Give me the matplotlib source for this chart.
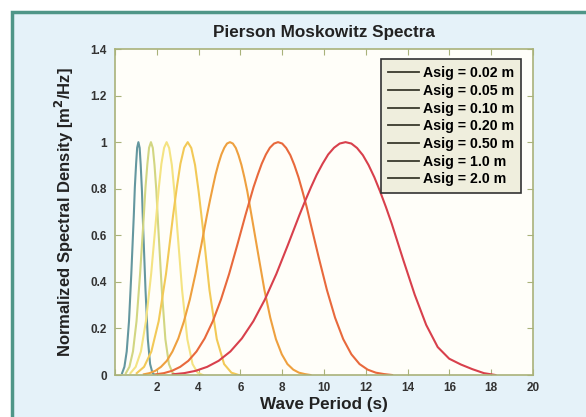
import matplotlib
matplotlib.use("Agg")
import matplotlib.pyplot as plt
from matplotlib.patches import Rectangle

plt.rcParams["font.family"] = ["Liberation Sans", "DejaVu Sans"]
plt.rcParams["font.weight"] = "bold"

# legend labels (significant wave height)
labels = ["Asig = 0.02 m", "Asig = 0.05 m", "Asig = 0.10 m", "Asig = 0.20 m",
          "Asig = 0.50 m", "Asig = 1.0 m", "Asig = 2.0 m"]
colors = ["#64979f", "#d2d682", "#f4e382", "#f2c957", "#eea03f", "#e8693c", "#d8404c"]

# narrow spectra (normalized densities, same read-off for the four small sea states)
narrow_vals = [0.008, 0.035, 0.101, 0.231, 0.434, 0.686, 0.807, 0.907, 0.976, 1.0,
               0.975, 0.902, 0.789, 0.650, 0.365, 0.154, 0.047, 0.010, 0.0]
t1 = [0.34, 0.45, 0.56, 0.67, 0.78, 0.90, 0.95, 1.01, 1.06, 1.12,
      1.18, 1.23, 1.29, 1.34, 1.46, 1.57, 1.68, 1.79, 1.90]
t2 = [0.52, 0.69, 0.86, 1.03, 1.20, 1.38, 1.46, 1.55, 1.63, 1.72,
      1.81, 1.89, 1.98, 2.06, 2.24, 2.41, 2.58, 2.75, 2.92]
t3 = [0.74, 0.99, 1.24, 1.48, 1.73, 1.98, 2.10, 2.22, 2.35, 2.47,
      2.59, 2.72, 2.84, 2.96, 3.21, 3.46, 3.71, 3.95, 4.20]
t4 = [1.04, 1.39, 1.74, 2.09, 2.44, 2.78, 2.96, 3.13, 3.31, 3.48,
      3.65, 3.83, 4.00, 4.18, 4.52, 4.87, 5.22, 5.57, 5.92]

# wider spectra, finer reading
wide_vals = [0.003, 0.008, 0.018, 0.035, 0.061, 0.101, 0.157, 0.231, 0.324, 0.434, 0.558, 0.686,
             0.748, 0.807, 0.860, 0.907, 0.947, 0.976, 0.994, 1.0, 0.994, 0.975, 0.944, 0.902,
             0.849, 0.789, 0.722, 0.650, 0.504, 0.365, 0.246, 0.154, 0.089, 0.047, 0.023, 0.010,
             0.004, 0.0]
t5 = [1.38, 1.65, 1.93, 2.20, 2.48, 2.75, 3.03, 3.30, 3.58, 3.85, 4.13, 4.40,
      4.54, 4.68, 4.81, 4.95, 5.09, 5.23, 5.36, 5.50, 5.64, 5.78, 5.91, 6.05,
      6.19, 6.33, 6.46, 6.60, 6.88, 7.15, 7.43, 7.70, 7.98, 8.25, 8.53, 8.80, 9.08, 9.35]
t6 = [1.95, 2.34, 2.73, 3.12, 3.51, 3.90, 4.29, 4.68, 5.07, 5.46, 5.85, 6.24,
      6.44, 6.63, 6.83, 7.02, 7.22, 7.41, 7.61, 7.80, 8.00, 8.19, 8.39, 8.58,
      8.78, 8.97, 9.17, 9.36, 9.75, 10.14, 10.53, 10.92, 11.31, 11.70, 12.09, 12.48, 12.87, 13.26]
t7 = [2.76, 3.31, 3.86, 4.41, 4.96, 5.52, 6.07, 6.62, 7.17, 7.72, 8.27, 8.82,
      9.10, 9.38, 9.65, 9.93, 10.20, 10.48, 10.75, 11.03, 11.31, 11.58, 11.86, 12.13,
      12.41, 12.68, 12.96, 13.24, 13.79, 14.34, 14.89, 15.44, 15.99, 16.55, 17.10, 17.65, 18.20]
v7 = [0.003, 0.008, 0.018, 0.035, 0.061, 0.101, 0.157, 0.231, 0.324, 0.434, 0.558, 0.686,
      0.748, 0.807, 0.860, 0.907, 0.947, 0.976, 0.994, 1.0, 0.994, 0.975, 0.944, 0.902,
      0.849, 0.789, 0.722, 0.650, 0.495, 0.345, 0.215, 0.120, 0.070, 0.045, 0.025, 0.008, 0.0]

periods = [t1, t2, t3, t4, t5, t6, t7]
values = [narrow_vals, narrow_vals, narrow_vals, narrow_vals, wide_vals, wide_vals, v7]

xticks = [0, 2, 4, 6, 8, 10, 12, 14, 16, 18, 20]
xticklabels = ["", "2", "4", "6", "8", "10", "12", "14", "16", "18", "20"]
yticks = [0, 0.2, 0.4, 0.6, 0.8, 1.0, 1.2, 1.4]
yticklabels = ["0", "0.2", "0.4", "0.6", "0.8", "1", "1.2", "1.4"]

fig = plt.figure(figsize=(5.86, 4.17), dpi=100, facecolor="white")
# light blue panel with teal frame
fig.patches.append(Rectangle((12 / 586, -0.1), 1.2, 0.1 + 1 - 12 / 417, transform=fig.transFigure,
                             facecolor="#e5f2f9", edgecolor="#4f9688", linewidth=2.5, zorder=-5))

ax = fig.add_axes([115 / 586, 1 - 375 / 417, 418 / 586, 326 / 417])
ax.set_zorder(2)
ax.set_facecolor("#fffef9")

for t, v, c, lab in zip(periods, values, colors, labels):
    ax.plot(t, v, color=c, linewidth=1.5, label=lab, solid_joinstyle="round")

ax.set_xlim(0, 20)
ax.set_ylim(0, 1.4)
ax.set_xticks(xticks)
ax.set_xticklabels(xticklabels)
ax.set_yticks(yticks)
ax.set_yticklabels(yticklabels)
ax.tick_params(direction="in", length=4, color="#a9b27a", labelsize=8.5,
               top=True, right=True, labelcolor="#333333")
ax.tick_params(axis="x", pad=5)
ax.tick_params(axis="y", pad=6)
for s in ax.spines.values():
    s.set_color("#a9b27a")
    s.set_linewidth(1.2)

ax.set_title("Pierson Moskowitz Spectra", fontsize=12.3, fontweight="bold", color="#222222", pad=9)
ax.set_xlabel("Wave Period (s)", fontsize=12.3, fontweight="bold", color="#222222", labelpad=2)
ax.set_ylabel("Normalized Spectral Density [m$^2$/Hz]", fontsize=12, fontweight="bold",
              color="#222222", labelpad=10)

leg = ax.legend(loc="upper right", bbox_to_anchor=(0.971, 0.969), borderaxespad=0,
                fontsize=10.2, handlelength=2.2, handletextpad=0.25, labelspacing=0.26,
                fancybox=False, framealpha=1, borderpad=0.5)
leg.get_frame().set_facecolor("#efeedd")
leg.get_frame().set_edgecolor("#333333")
leg.get_frame().set_linewidth(1.2)
for ln in leg.get_lines():
    ln.set_color("#3a3a2c")
    ln.set_linewidth(1.3)

fig.savefig("out.png", dpi=100)
